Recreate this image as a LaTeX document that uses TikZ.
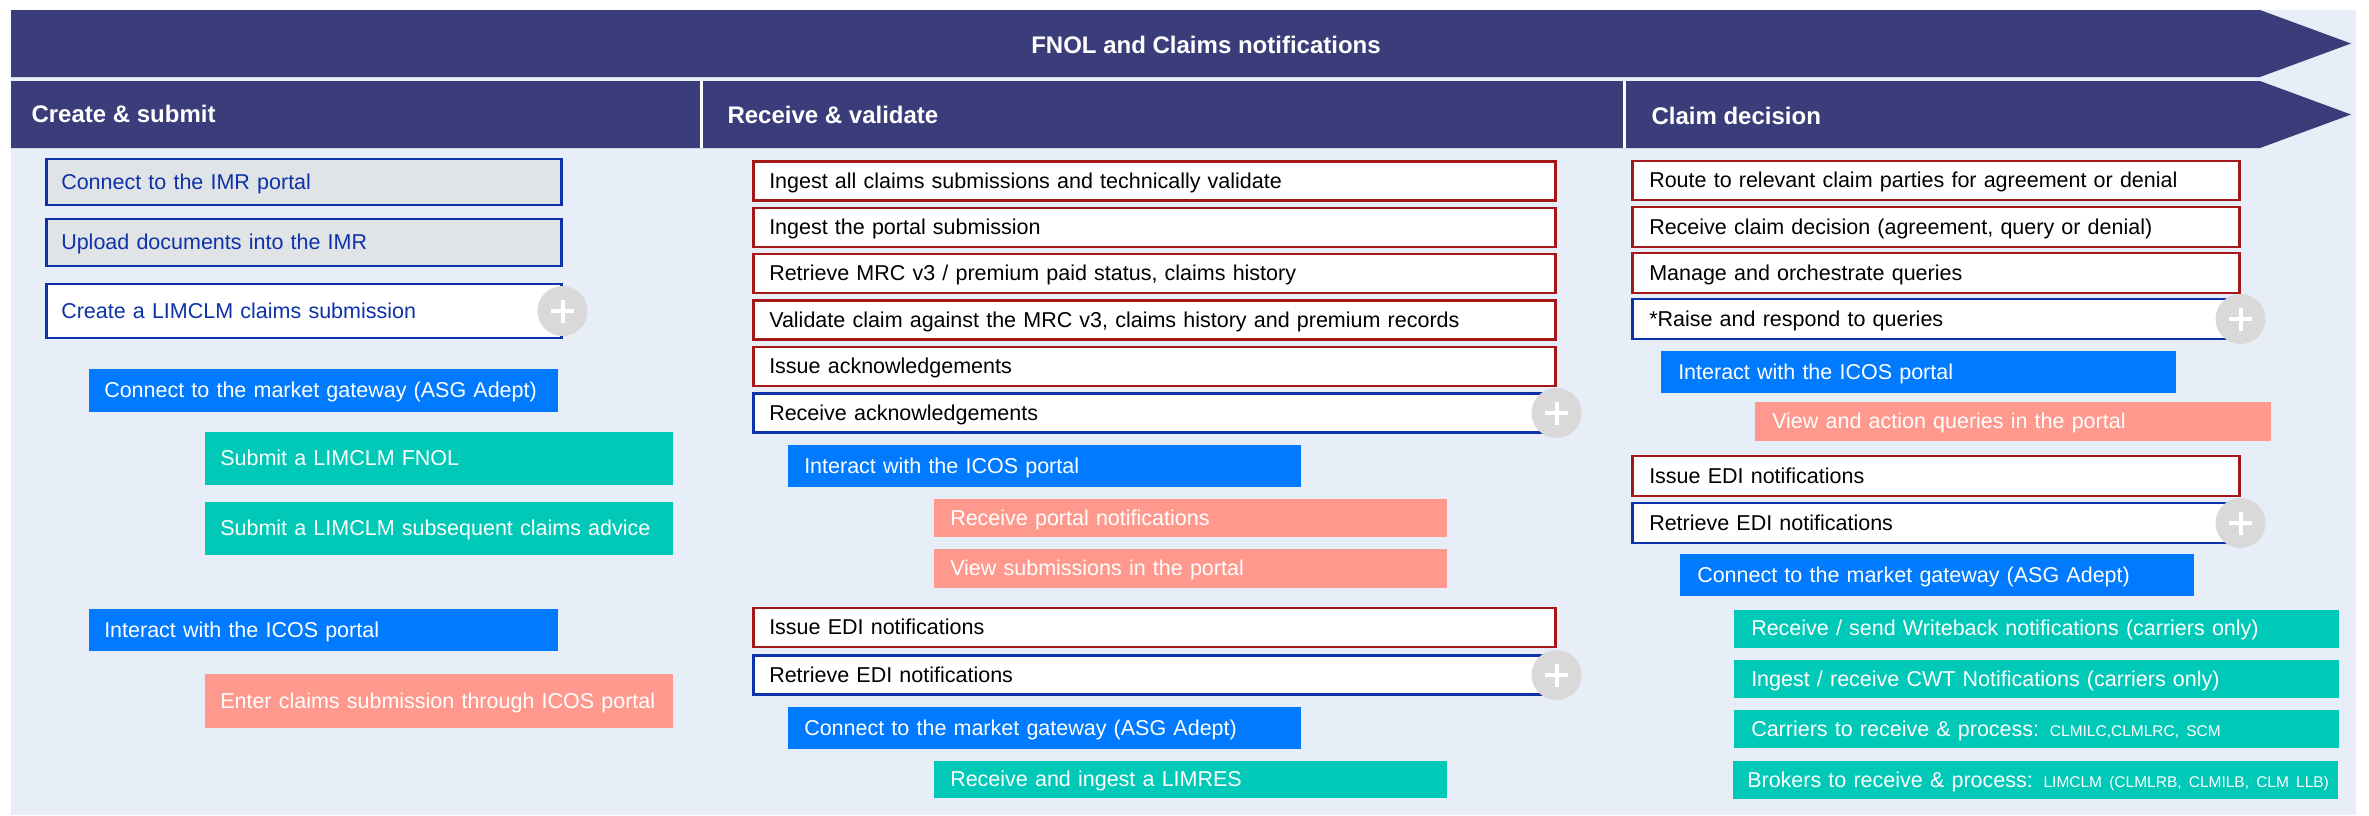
\documentclass[tikz,border=0pt]{standalone}
\usepackage{fontspec}
\setmainfont{Liberation Sans}
\definecolor{myNavy}{RGB}{59,61,122}
\definecolor{myPale}{RGB}{232,238,248}
\definecolor{myGray}{RGB}{224,228,231}
\definecolor{myBlue}{RGB}{14,50,170}
\definecolor{myRed}{RGB}{165,22,22}
\definecolor{myAzure}{RGB}{0,122,255}
\definecolor{myTeal}{RGB}{0,201,183}
\definecolor{mySalmon}{RGB}{255,153,142}
\definecolor{myPlus}{RGB}{217,217,217}

\begin{document}
\begin{tikzpicture}[x = 1pt, y = -1pt,
	task/.style = {anchor = west, inner ysep = 0pt, align = left, line width = 2.5pt, minimum height = 39pt,
		text height = 19.5pt, text depth = 4.6pt},
	redtask/.style = {task, draw = myRed, fill = white},
	bluetask/.style = {task, draw = myBlue, fill = white},
	imrtask/.style = {task, draw = myBlue, fill = myGray, text = myBlue, minimum height = 46pt},
	gate/.style = {task, fill = myAzure, text = white, minimum height = 42pt},
	edi/.style = {task, fill = myTeal, text = white, minimum height = 38pt},
	portal/.style = {task, fill = mySalmon, text = white},
	head/.style = {anchor = west, text = white, font = \bfseries\fontsize{24}{28}\selectfont},
	more/.style = {circle, fill = myPlus, minimum size = 50pt, inner sep = 0pt,
		path picture = {\draw [white, line width = 4pt]
			([xshift = -11.5pt]path picture bounding box.center) -- ([xshift = 11.5pt]path picture bounding box.center)
			([yshift = -11.5pt]path picture bounding box.center) -- ([yshift = 11.5pt]path picture bounding box.center);}}]
		\useasboundingbox (0, 0) rectangle (2369, 815);
		%%%%%%%%%%%%%
		\fill [myPale] (11, 10) rectangle (2356, 815);
		\fill [myNavy] (11, 10) -- (2260, 10) -- (2351, 43.5) -- (2260, 77) -- (11, 77) -- cycle;
		\fill [myNavy] (11, 81) -- (2260, 81) -- (2351, 114.5) -- (2260, 148) -- (11, 148) -- cycle;
		\draw [white, line width = 3pt] (701, 81) -- (701, 148);
		\draw [white, line width = 3pt] (1624, 81) -- (1624, 148);
		\node (title) at (1206, 45) [text = white, font = \bfseries\fontsize{24}{28}\selectfont] {FNOL and Claims notifications};
		\node (h1) at (28, 114) [head] {Create \& submit};
		\node (h2) at (724, 115) [head] {Receive \& validate};
		\node (h3) at (1648, 116) [head] {Claim decision};
		%%%%%%%%%%%%%
		\begin{scope}[inner xsep = 15pt, font = \fontsize{21.5}{24}\selectfont]
		\node (imr) at (45, 182) [imrtask, text width = 485pt] {Connect to the IMR portal};
		\node (upload) at (45, 242.5) [imrtask, text width = 485pt, minimum height = 47pt] {Upload documents into the IMR};
		\node (create) at (45, 311) [bluetask, text = myBlue, text width = 485pt, minimum height = 54pt] {Create a LIMCLM claims submission};
		\node (gw1) at (88, 390.5) [gate, text width = 439pt, minimum height = 43pt] {Connect to the market gateway (ASG Adept)};
		\node (fnol) at (204, 458.5) [edi, text width = 438pt, minimum height = 53pt] {Submit a LIMCLM FNOL};
		\node (advice) at (204, 528.5) [edi, text width = 438pt, minimum height = 53pt] {Submit a LIMCLM subsequent claims advice};
		\node (icos1) at (88, 630) [gate, text width = 439pt] {Interact with the ICOS portal};
		\node (enter) at (204, 701) [portal, text width = 438pt, minimum height = 54pt] {Enter claims submission through ICOS portal};
		\end{scope}
		%%%%%%%%%%%%%
		\begin{scope}[inner xsep = 16pt, font = \fontsize{21.5}{24}\selectfont]
		\node (ingest) at (752, 181) [redtask, text width = 770pt] {Ingest all claims submissions and technically validate};
		\node (portalsub) at (752, 227.5) [redtask, text width = 770pt] {Ingest the portal submission};
		\node (mrc) at (752, 273.5) [redtask, text width = 770pt] {Retrieve MRC v3 / premium paid status, claims history};
		\node (validate) at (752, 320) [redtask, text width = 770pt] {Validate claim against the MRC v3, claims history and premium records};
		\node (issueack) at (752, 366.5) [redtask, text width = 770pt] {Issue acknowledgements};
		\node (recack) at (752, 413) [bluetask, text width = 770pt] {Receive acknowledgements};
		\node (icos2) at (787, 466) [gate, text width = 481pt] {Interact with the ICOS portal};
		\node (notif) at (933, 518) [portal, text width = 481pt, minimum height = 38pt] {Receive portal notifications};
		\node (viewsub) at (933, 568.5) [portal, text width = 481pt] {View submissions in the portal};
		\node (issue2) at (752, 627.5) [redtask, text width = 770pt] {Issue EDI notifications};
		\node (retr2) at (752, 675) [bluetask, text width = 770pt] {Retrieve EDI notifications};
		\node (gw2) at (787, 728) [gate, text width = 481pt] {Connect to the market gateway (ASG Adept)};
		\node (limres) at (933, 779.5) [edi, text width = 481pt, minimum height = 37pt] {Receive and ingest a LIMRES};
		\end{scope}
		%%%%%%%%%%%%%
		\begin{scope}[inner xsep = 17pt, font = \fontsize{21.5}{24}\selectfont]
		\node (route) at (1631, 180.5) [redtask, text width = 573pt] {Route to relevant claim parties for agreement or denial};
		\node (decision) at (1631, 227) [redtask, text width = 573pt, minimum height = 40pt] {Receive claim decision (agreement, query or denial)};
		\node (manage) at (1631, 273) [redtask, text width = 573pt, minimum height = 40pt] {Manage and orchestrate queries};
		\node (raise) at (1631, 319) [bluetask, text width = 573pt, minimum height = 40pt] {*Raise and respond to queries};
		\node (icos3) at (1660, 372) [gate, text width = 481pt] {Interact with the ICOS portal};
		\node (actq) at (1754, 421.5) [portal, text width = 482pt] {View and action queries in the portal};
		\node (issue3) at (1631, 476) [redtask, text width = 573pt, minimum height = 40pt] {Issue EDI notifications};
		\node (retr3) at (1631, 523) [bluetask, text width = 573pt, minimum height = 40pt] {Retrieve EDI notifications};
		\node (gw3) at (1679, 575) [gate, text width = 480pt] {Connect to the market gateway (ASG Adept)};
		\node (wback) at (1733, 628.5) [edi, text width = 571pt] {Receive / send Writeback notifications (carriers only)};
		\node (cwt) at (1733, 679) [edi, text width = 571pt] {Ingest / receive CWT Notifications (carriers only)};
		\node (carr) at (1733, 729) [edi, text width = 571pt] {Carriers to receive \& process: {\fontsize{15.5}{18}\selectfont CLMILC,CLMLRC, SCM}};
		\node (brok) at (1732, 780) [edi, inner xsep = 14pt, text width = 577pt] {\mbox{Brokers to receive \& process: {\fontsize{15.5}{18}\selectfont LIMCLM (CLMLRB, CLMILB, CLM LLB)}}};
		\end{scope}
		%%%%%%%%%%%%%
		\node (more1) at (create.east) [more] {};
		\node (more2) at (recack.east) [more] {};
		\node (more3) at (retr2.east) [more] {};
		\node (more4) at (raise.east) [more] {};
		\node (more5) at (retr3.east) [more] {};
\end{tikzpicture}
\end{document}
